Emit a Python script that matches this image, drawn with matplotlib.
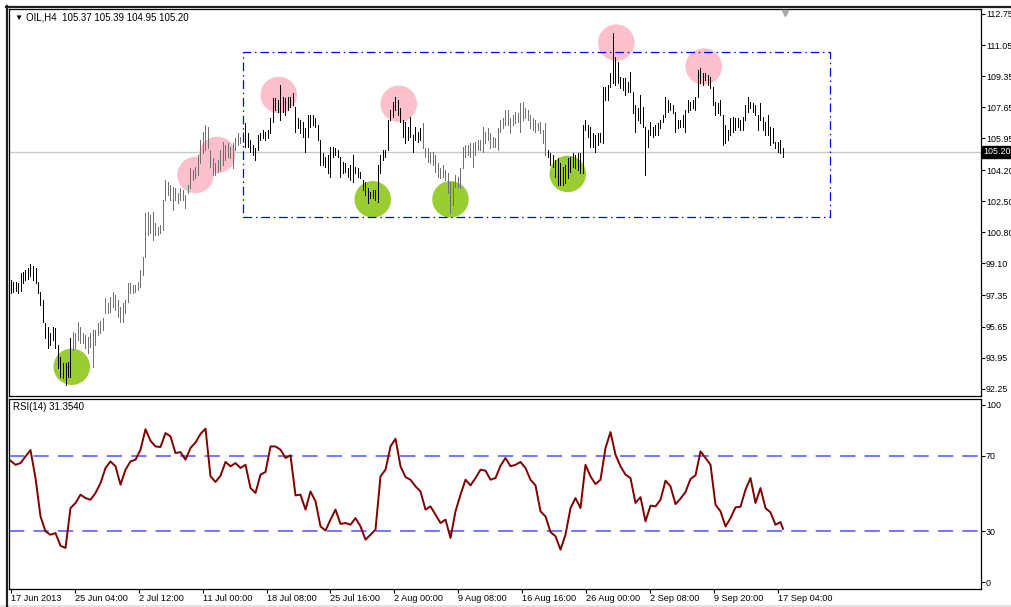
import numpy as np
import matplotlib.pyplot as plt
from matplotlib.lines import Line2D
from matplotlib.patches import Rectangle

plt.rcParams['font.family'] = ['Liberation Sans', 'DejaVu Sans']

# ---------------- data (OIL, H4) ----------------
bar_high = [
    98.20, 98.10, 98.10, 98.01, 98.56, 98.65, 98.74, 98.83, 99.07, 98.96,
    98.83, 98.10, 97.56, 97.10, 95.82, 95.64, 95.28, 95.64, 95.55, 94.64,
    94.00, 93.64, 93.64, 93.73, 95.00, 95.37, 95.28, 95.92, 95.64, 95.28,
    95.19, 95.10, 95.28, 95.46, 95.46, 95.82, 95.97, 96.10, 97.19, 96.92,
    97.28, 97.56, 97.37, 97.10, 96.74, 96.92, 97.10, 98.01, 98.05, 97.92,
    97.92, 98.10, 98.74, 99.47, 101.84, 101.93, 101.75, 101.93, 101.30, 101.11,
    101.20, 102.57, 103.67, 103.58, 103.39, 103.30, 103.21, 102.94, 103.21, 103.12,
    102.84, 103.39, 104.31, 104.22, 104.40, 105.04, 105.86, 106.31, 106.68, 106.59,
    105.31, 104.85, 104.58, 104.76, 105.31, 105.76, 105.58, 105.67, 105.49, 105.67,
    105.95, 106.22, 106.04, 106.31, 106.77, 106.22, 105.86, 105.58, 105.40, 106.13,
    106.22, 106.40, 106.31, 106.40,
    107.04, 108.14, 108.14, 108.04, 108.86, 108.23, 108.14, 108.23, 108.23, 108.41,
    107.68, 107.04, 106.95, 106.86, 106.49, 107.22, 107.22, 107.22, 107.04, 106.68,
    105.86, 105.13, 104.94, 105.03, 105.49, 105.49, 105.40, 105.31, 104.94, 104.67,
    104.58, 104.30, 104.49, 105.03, 104.40, 104.30, 104.12, 103.67, 103.58, 103.21,
    103.03, 103.12, 103.12, 104.49, 105.03, 105.31, 105.31, 106.95, 107.50, 107.95,
    108.23, 108.04, 107.59, 106.95, 106.86, 106.59, 107.13, 106.13, 106.59, 106.31,
    106.49, 106.77, 105.40, 105.40, 105.22, 105.22, 105.03, 104.58, 104.30, 104.49,
    104.21, 104.03, 103.58, 103.58, 103.94, 103.85, 104.30, 105.49, 105.58, 105.58,
    105.67, 105.67, 105.76, 105.86, 105.86, 106.59, 106.31, 106.49, 106.22, 106.04,
    105.95, 106.49, 106.95, 107.04, 107.50, 107.50, 107.04, 107.22, 107.41, 107.31,
    107.86,
    107.95, 107.59, 107.50, 107.22, 107.04, 106.95, 106.77, 106.86, 106.40, 106.77,
    105.31, 105.12, 105.03, 104.76, 104.85, 104.58, 104.40, 104.49, 104.85, 104.94,
    105.12, 105.03, 105.12, 105.12, 106.68, 106.95, 106.68, 106.58, 106.22, 106.13,
    106.22, 106.22, 108.77, 108.77, 108.86, 109.50, 111.69, 110.41, 110.14, 109.32,
    109.23, 109.23, 109.05, 109.59, 108.50, 107.77, 107.59, 108.32, 107.68, 106.58,
    106.40, 106.86, 106.58, 106.68, 106.77, 106.95, 107.22, 108.23, 108.04, 107.86,
    107.77, 107.41, 106.95, 106.95, 107.22, 107.50, 108.04, 107.95, 108.04, 108.23,
    109.69, 109.78, 109.50, 109.50, 109.41, 109.32, 108.77, 107.95, 107.86, 108.04,
    107.22, 106.68, 106.40, 107.04, 107.13, 107.04, 107.04, 106.95, 107.13, 107.77,
    108.23, 107.95, 107.86, 107.77, 107.22, 107.86, 107.13, 106.86, 107.22, 106.58,
    106.49, 105.76, 105.76, 105.86, 105.39,
]
bar_low = [
    97.47, 97.56, 97.61, 97.47, 97.61, 98.05, 98.20, 98.23, 98.41, 98.20,
    98.01, 97.47, 96.83, 95.92, 95.00, 94.46, 94.64, 94.91, 94.46, 93.36,
    92.91, 92.81, 92.45, 92.91, 92.91, 94.37, 94.46, 94.91, 94.73, 94.73,
    94.46, 94.18, 94.55, 93.45, 94.64, 95.19, 95.28, 95.46, 96.37, 96.37,
    96.46, 96.74, 96.55, 96.19, 95.92, 95.92, 96.37, 97.01, 97.47, 97.47,
    97.56, 97.65, 97.83, 98.47, 99.47, 100.66, 100.75, 100.38, 100.66, 100.66,
    100.75, 100.93, 102.57, 102.84, 102.57, 102.03, 102.57, 102.39, 102.57, 102.57,
    102.12, 102.94, 103.21, 103.67, 103.76, 103.94, 104.58, 105.13, 105.31, 105.40,
    104.40, 103.94, 103.94, 104.12, 104.22, 104.49, 104.76, 104.94, 104.85, 104.31,
    105.31, 105.58, 105.67, 105.76, 105.49, 105.49, 105.22, 105.04, 104.76, 105.31,
    105.86, 105.95, 105.86, 105.95,
    106.22, 106.86, 107.50, 107.41, 106.95, 107.41, 107.22, 107.50, 107.68, 107.77,
    106.31, 106.49, 106.22, 106.04, 105.22, 106.04, 106.59, 106.68, 106.59, 105.86,
    104.49, 104.49, 104.40, 104.03, 103.85, 104.94, 105.03, 104.94, 103.85, 104.03,
    104.12, 103.85, 103.67, 103.58, 104.03, 103.85, 103.76, 103.12, 102.85, 102.39,
    102.66, 102.66, 102.57, 102.48, 104.03, 104.76, 104.94, 105.31, 106.95, 107.13,
    107.50, 107.22, 106.86, 106.04, 105.67, 105.86, 106.04, 105.22, 105.86, 105.76,
    105.86, 105.40, 104.94, 104.67, 104.58, 104.49, 104.12, 103.85, 103.76, 103.85,
    103.67, 102.94, 101.84, 102.30, 103.30, 103.30, 103.21, 104.30, 104.94, 105.03,
    104.94, 104.40, 105.03, 105.31, 105.31, 105.22, 105.67, 105.86, 105.40, 105.49,
    105.49, 105.31, 106.31, 106.49, 106.68, 106.68, 106.22, 106.68, 106.77, 106.86,
    106.31,
    106.95, 107.04, 106.95, 106.49, 106.40, 106.31, 106.40, 106.22, 105.67, 105.03,
    104.94, 104.49, 104.40, 103.85, 103.39, 103.39, 103.39, 103.48, 103.76, 104.12,
    104.40, 104.30, 104.21, 104.03, 104.03, 106.40, 106.04, 105.49, 105.49, 105.22,
    105.58, 105.76, 105.67, 108.04, 108.04, 108.77, 108.96, 108.86, 108.96, 108.68,
    108.59, 108.32, 108.50, 108.50, 107.31, 106.31, 106.95, 106.77, 106.58, 103.94,
    105.49, 106.13, 106.04, 106.13, 106.13, 106.49, 106.86, 107.13, 107.41, 107.50,
    107.31, 106.31, 106.49, 106.58, 106.58, 106.31, 107.41, 107.50, 107.59, 107.50,
    108.23, 108.96, 108.86, 109.14, 108.86, 108.68, 107.77, 107.22, 107.31, 107.22,
    105.58, 105.67, 105.86, 106.13, 106.31, 106.40, 106.58, 106.40, 106.40, 106.95,
    107.41, 107.59, 107.41, 107.22, 106.40, 106.95, 106.40, 106.13, 106.13, 105.58,
    105.67, 105.40, 105.22, 105.12, 104.95,
]
gray_runs = [(25, 93), (165, 214)]   # bars drawn in gray, inclusive

# RSI(14), one value every second bar, last value on the last bar
rsi = [
    67.4, 65.2, 66.1, 69.6, 73.0, 58.2, 37.9, 30.0, 28.2, 29.1,
    22.4, 21.2, 42.3, 45.0, 49.4, 47.6, 46.7, 50.3, 55.5, 63.5,
    67.0, 64.4, 54.7, 62.6, 67.0, 67.9, 73.2, 84.0, 77.9, 74.9,
    74.6, 82.0, 80.2, 71.4, 71.9, 67.9, 74.1, 77.0, 81.5, 84.3,
    59.1, 56.1, 59.4, 66.7, 64.4, 66.1, 63.5, 65.2, 52.9, 50.3,
    60.0, 61.4, 74.9, 74.9, 73.2, 68.8, 70.2, 49.0, 49.4, 41.5,
    51.1, 45.9, 32.6, 30.4, 36.2, 41.5, 33.9, 34.4, 33.5, 37.0,
    32.6, 25.6, 28.2, 30.9, 59.1, 62.6, 74.9, 79.0, 64.4, 58.7,
    57.3, 53.8, 51.1, 41.5, 43.2, 38.8, 34.4, 36.2, 26.5, 40.6,
    49.4, 57.3, 54.3, 58.2, 62.6, 62.1, 57.3, 58.2, 64.7, 68.8,
    64.4, 65.2, 66.7, 63.5, 57.3, 54.3, 40.6, 37.9, 29.6, 27.4,
    20.3, 28.2, 42.3, 47.6, 42.3, 65.2, 59.1, 55.0, 57.3, 74.1,
    82.5, 70.5, 64.4, 60.0, 58.2, 45.0, 48.1, 35.3, 43.6, 43.2,
    46.7, 56.8, 53.8, 44.4, 47.3, 50.8, 57.7, 59.6, 72.3, 68.8,
    65.2, 44.1, 40.6, 32.6, 37.0, 42.7, 43.0, 52.0, 58.2, 45.0,
    52.9, 42.3, 40.0, 33.5, 34.9, 31.35,
]
rsi_levels = [70, 30]

time_labels = ['17 Jun 2013', '25 Jun 04:00', '2 Jul 12:00', '11 Jul 00:00',
               '18 Jul 08:00', '25 Jul 16:00', '2 Aug 00:00', '9 Aug 08:00',
               '16 Aug 16:00', '26 Aug 00:00', '2 Sep 08:00', '9 Sep 20:00',
               '17 Sep 04:00']
price_ticks = [112.75, 111.05, 109.35, 107.65, 105.95, 104.20, 102.50,
               100.80, 99.10, 97.35, 95.65, 93.95, 92.25]
last_price = 105.20
header = 'OIL,H4  105.37 105.39 104.95 105.20'

# highlighted swing highs / lows (bar index, price)
tops = [(74.0, 103.94), (82.7, 105.04), (107.3, 108.32), (155.3, 107.83),
        (242.3, 111.18), (277.3, 109.87)]
bottoms = [(24.5, 93.45), (144.9, 102.61), (176.0, 102.61), (222.9, 104.00)]
range_box = (93.0, 327.6, 101.63, 110.67)   # x0, x1, low, high

# ---------------- layout ----------------
W, H = 1012, 607
fig = plt.figure(figsize=(W / 100, H / 100), dpi=100)
fig.patch.set_facecolor('white')


def px_axes(x0, y0, x1, y1):
    return fig.add_axes([x0 / W, 1 - y1 / H, (x1 - x0) / W, (y1 - y0) / H])


ax = px_axes(9, 9, 981, 396)
ax2 = px_axes(9, 399, 981, 589)
xlim = (-0.6, 388.2)

# ---------------- price panel ----------------
n = len(bar_high)
idx = np.arange(n)
colors = ['black'] * n
for a, b in gray_runs:
    for i in range(a, b + 1):
        colors[i] = '#707070'

ax.axhline(last_price, color='#c8c8c8', lw=1.0, zorder=0)
ax.scatter([p[0] for p in tops], [p[1] for p in tops], s=690,
           color='#fcc0cc', edgecolors='none', zorder=1)
ax.scatter([p[0] for p in bottoms], [p[1] for p in bottoms], s=690,
           color='#9acd32', edgecolors='none', zorder=1)
ax.vlines(idx, bar_low, bar_high, colors=colors, lw=0.72, antialiased=False,
          zorder=2)

x0, x1, lo, hi = range_box
ax.add_patch(Rectangle((x0, lo), x1 - x0, hi - lo, fill=False,
                       ec='#0000ff', lw=0.9, ls=(0, (7, 3, 1.2, 3)), zorder=3))

ax.set_xlim(*xlim)
ax.set_ylim(91.85, 113.02)
ax.set_xticks([])
ax.yaxis.tick_right()
ax.set_yticks(price_ticks)
ax.set_yticklabels(['%.2f' % v for v in price_ticks])
ax.tick_params(axis='y', direction='out', length=3, width=0.8, pad=0.5,
               labelsize=6.4, colors='black')
ax.annotate('%.2f' % last_price, xy=(1, last_price),
            xycoords=('axes fraction', 'data'), xytext=(1.8, 0),
            textcoords='offset points', va='center', ha='left', fontsize=6.4,
            color='white', annotation_clip=False, zorder=5,
            bbox=dict(boxstyle='square,pad=0.15', fc='black', ec='black'))
ax.plot([310], [0.99], transform=ax.get_xaxis_transform(), marker='v',
        ms=5, color='#a8a8a8', clip_on=False, zorder=4)

# ---------------- RSI panel ----------------
rsi_x = np.append(np.arange(0, n, 2), n - 1)
for lv in rsi_levels:
    ax2.axhline(lv, color='#5050ff', lw=1.1, ls=(0, (10, 6)), zorder=1)
ax2.plot(rsi_x, rsi, color='#800000', lw=1.4, zorder=2)
ax2.set_xlim(*xlim)
ax2.set_ylim(-0.5, 100.0)
ax2.yaxis.tick_right()
ax2.set_yticks([97, 70, 30, 3])
ax2.set_yticklabels(['100', '70', '30', '0'])
ax2.tick_params(axis='y', direction='out', length=3, width=0.8, pad=0.5,
                labelsize=6.4)
ticks = np.arange(len(time_labels)) * 25.56 + 0.2
ax2.set_xticks(ticks)
ax2.set_xticklabels(time_labels, ha='left')
ax2.tick_params(axis='x', direction='out', length=3, width=0.8, pad=0.5,
                labelsize=6.6)

for a in (ax, ax2):
    for s in a.spines.values():
        s.set_color('black')
        s.set_linewidth(0.9)

# ---------------- window decorations / labels ----------------
fig.text(14 / W, 1 - 18 / H, '\u25bc', fontsize=6, va='center', ha='left')
fig.text(26 / W, 1 - 18 / H, header, fontsize=7, va='center', ha='left')
fig.text(13 / W, 1 - 407 / H, 'RSI(14) 31.3540', fontsize=7,
         va='center', ha='left')
fig.add_artist(Line2D([6 / W, 1], [1 - 7 / H, 1 - 7 / H], color='#202020', lw=1.6))
fig.add_artist(Line2D([7 / W, 7 / W], [0, 1 - 6 / H], color='#202020', lw=1.6))
fig.add_artist(Rectangle((0, 0), 1, 2 / H, transform=fig.transFigure,
                         fc='#e4e4e4', ec='none'))

fig.savefig('out.png', dpi=100)
